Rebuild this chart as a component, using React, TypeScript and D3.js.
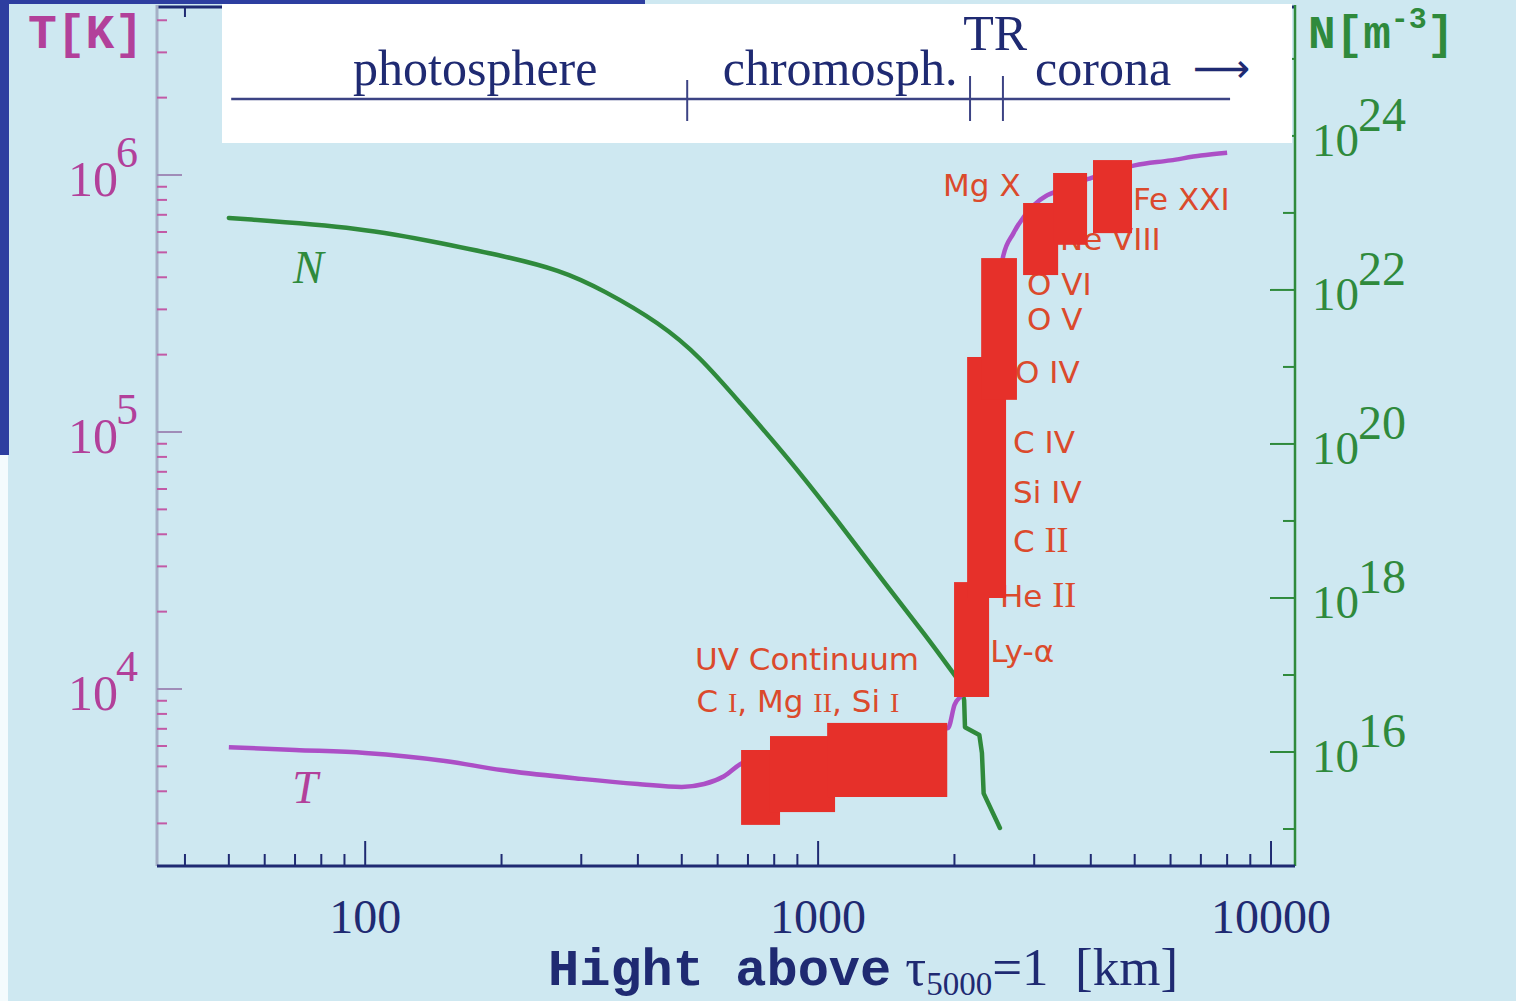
import * as d3 from "d3";

// temperature profile: height above tau5000=1 [km] and T [K]
const tHeight = [50, 70, 100, 150, 200, 300, 400, 500, 560, 620, 680, 1000, 1500, 1936, 2000, 2100, 2200, 2300, 2400, 2560, 2700, 3000, 3500, 4000, 5000, 6000, 7000, 8000];
const tTemp = [5940, 5790, 5640, 5250, 4840, 4470, 4270, 4160, 4270, 4580, 5150, 6000, 6700, 7050, 8660, 9910, 2.0e4, 8e4, 2e5, 4.8e5, 5.94e5, 7.65e5, 8.9e5, 9.73e5, 1.09e6, 1.14e6, 1.19e6, 1.22e6];

// particle density profile: height [km] and N [m^-3]
const nHeight = [50, 100, 150, 200, 269.5, 335, 448, 549, 673, 854.5, 1101, 1370, 1740, 1986, 2060, 2101, 2110, 2270, 2300, 2320, 2520];
const nDens = [8.6e22, 6.4e22, 3.95e22, 2.8e22, 1.82e22, 1.0e22, 3.7e21, 1.35e21, 3.4e20, 6.8e19, 1.03e19, 1.87e18, 3.1e17, 1.06e17, 7.9e16, 4.7e16, 2.1e16, 1.66e16, 9.7e15, 2.9e15, 1.03e15];
const nSmoothEnd = 14; // smooth decline up to 2060 km, jagged tail after

// formation regions of the spectral lines: [h0, h1, T0, T1]
const blocks = [
  [676, 824, 2960, 5790],
  [783, 1090, 3320, 6560],
  [1047, 1928, 3800, 7380],
  [1996, 2385, 9310, 26060],
  [2133, 2600, 22600, 195800],
  [2291, 2748, 133400, 475000],
  [2835, 3388, 408000, 778000],
  [3302, 3925, 535000, 1.018e6],
  [4045, 4932, 594000, 1.143e6],
];

const lineLabels = ["Mg X", "Fe XXI", "Ne VIII", "O VI", "O V", "O IV", "C IV", "Si IV", "C II", "He II", "Ly-α", "UV Continuum"];
const lineLabelH = [1888, 4955, 3420, 2891, 2891, 2722, 2695, 2695, 2695, 2522, 2399, 535];
const lineLabelT = [8.28e5, 7.31e5, 5.1e5, 3.42e5, 2.49e5, 1.55e5, 8.28e4, 5.3e4, 3.41e4, 2.08e4, 1.27e4, 1.186e4];
const serifNumeral = ["C II", "He II"];

// atmosphere layers in the header
const layerNames = ["photosphere", "chromosph.", "corona"];
const layerLabelH = [175, 1118, 3013];
const layerBounds = [514, 2165, 2559];
const headerRange = [50.6, 8120];

const hTicksLabeled = [100, 1000, 10000];
const tExponents = [4, 5, 6];
const nExponents = [16, 18, 20, 22, 24];

const X0 = 157, X1 = 1295, Y0 = 5, Y1 = 866;
const BG = "#cee8f1";
const NAVY = "#1f2a72";
const MAGENTA = "#b2409a";
const VIOLET = "#ac4fc6";
const GREEN = "#2f8a3c";
const RED = "#e6302a";
const LABEL = "#db4a2c";
const SERIF = "'Liberation Serif', 'DejaVu Serif', serif";
const MONO = "'Liberation Mono', 'DejaVu Sans Mono', monospace";
const SANS = "'DejaVu Sans', Verdana, sans-serif";

export default function App() {
  const x = d3.scaleLog().domain([34.7, 11296]).range([X0, X1]);
  const yT = d3.scaleLog().domain([2048, 4.586e6]).range([Y1, Y0]);
  const yN = d3.scaleLog().domain([Math.pow(10, 14.5195), Math.pow(10, 25.7)]).range([Y1, Y0]);

  const tPath = d3.line<number>()
    .x((_, i) => x(tHeight[i]))
    .y((d) => yT(d))
    .curve(d3.curveMonotoneX)(tTemp) as string;

  const nPts: [number, number][] = nHeight.map((h, i) => [x(h), yN(nDens[i])]);
  const nSmooth = d3.line().curve(d3.curveBasis)(nPts.slice(0, nSmoothEnd + 1)) as string;
  const nTail = d3.line()(nPts.slice(nSmoothEnd)) as string;

  const isDecade = (v: number) => Math.abs(Math.log10(v) - Math.round(Math.log10(v))) < 1e-9;
  const xTicks = x.ticks();
  const tTicks = yT.ticks();
  const nTicks = yN.ticks().filter(isDecade);

  return (
    <svg width={1516} height={1001} style={{ position: "absolute", left: 0, top: 0 }}>
      <rect width={1516} height={1001} fill={BG} />
      <rect x={0} y={0} width={645} height={4} fill="#2d3ea0" />
      <rect x={0} y={0} width={9} height={455} fill="#2d3ea0" />
      <rect x={0} y={455} width={8} height={546} fill="#f4fbfd" />

      {/* top axis (mostly hidden by header) */}
      <line x1={X0} x2={X1} y1={Y0 + 2} y2={Y0 + 2} stroke={NAVY} strokeWidth={3} />
      {xTicks.map((t, i) => (
        <line key={"tt" + i} x1={x(t)} x2={x(t)} y1={Y0 + 2} y2={Y0 + 2 + (isDecade(t) ? 22 : 10)} stroke={NAVY} strokeWidth={2} />
      ))}

      {/* left T axis */}
      <line x1={X0} x2={X0} y1={Y0} y2={Y1} stroke="#a4afc6" strokeWidth={3} />
      {tTicks.map((t, i) => (
        <line key={"lt" + i} x1={X0} x2={X0 + (isDecade(t) ? 25 : 10)} y1={yT(t)} y2={yT(t)} stroke={isDecade(t) ? "#a08cb8" : "#c25aa6"} strokeWidth={2} />
      ))}
      {tExponents.map((e) => (
        <g key={"tl" + e} fill={MAGENTA} fontFamily={SERIF}>
          <text x={118} y={yT(Math.pow(10, e)) + 21} fontSize={50} textAnchor="end">10</text>
          <text x={116} y={yT(Math.pow(10, e)) - 8} fontSize={44}>{e}</text>
        </g>
      ))}

      {/* right N axis */}
      <line x1={X1} x2={X1} y1={Y0} y2={Y1} stroke={GREEN} strokeWidth={2.5} />
      {nTicks.map((t, i) => {
        const major = Math.round(Math.log10(t)) % 2 === 0;
        return <line key={"rt" + i} x1={X1} x2={X1 - (major ? 25 : 12)} y1={yN(t)} y2={yN(t)} stroke={GREEN} strokeWidth={2} />;
      })}
      {nExponents.map((e) => (
        <g key={"nl" + e} fill={GREEN} fontFamily={SERIF}>
          <text x={1312} y={yN(Math.pow(10, e)) + 20} fontSize={47}>10</text>
          <text x={1358} y={yN(Math.pow(10, e)) - 5} fontSize={48}>{e}</text>
        </g>
      ))}

      {/* bottom x axis */}
      <line x1={X0} x2={X1} y1={Y1} y2={Y1} stroke={NAVY} strokeWidth={3} />
      {xTicks.map((t, i) => (
        <line key={"bt" + i} x1={x(t)} x2={x(t)} y1={Y1} y2={Y1 - (isDecade(t) ? 25 : 12)} stroke={NAVY} strokeWidth={2} />
      ))}
      {hTicksLabeled.map((t) => (
        <text key={"xl" + t} x={x(t)} y={933} fontSize={48} fontFamily={SERIF} fill={NAVY} textAnchor="middle">{t}</text>
      ))}
      <text x={548} y={985} fill={NAVY} style={{ whiteSpace: "pre" }}>
        <tspan fontFamily={MONO} fontWeight="bold" fontSize={52}>Hight above</tspan>
        <tspan fontFamily={SERIF} fontSize={52} dx={14}>τ</tspan>
        <tspan fontFamily={SERIF} fontSize={33} dy={10}>5000</tspan>
        <tspan fontFamily={SERIF} fontSize={53} dy={-10}>=1  [km]</tspan>
      </text>

      {/* axis titles */}
      <text x={28} y={48} fontFamily={MONO} fontWeight="bold" fontSize={48} fill={MAGENTA}>T[K]</text>
      <text x={1308} y={48} fontFamily={MONO} fontWeight="bold" fontSize={46} fill={GREEN}>
        N[m<tspan fontSize={30} dy={-20}>-3</tspan><tspan dy={20}>]</tspan>
      </text>

      {/* curves */}
      <path d={nSmooth} fill="none" stroke={GREEN} strokeWidth={4.5} strokeLinejoin="round" strokeLinecap="round" />
      <path d={nTail} fill="none" stroke={GREEN} strokeWidth={4.5} strokeLinejoin="round" strokeLinecap="round" />
      <path d={tPath} fill="none" stroke={VIOLET} strokeWidth={4.5} strokeLinejoin="round" />
      <text x={x(69.3)} y={yN(1.23e22)} fontFamily={SERIF} fontStyle="italic" fontSize={46} fill={GREEN}>N</text>
      <text x={x(69)} y={yT(3600)} fontFamily={SERIF} fontStyle="italic" fontSize={46} fill={MAGENTA}>T</text>

      {/* line labels */}
      <g fill={LABEL} fontFamily={SANS} fontSize={31}>
        {lineLabels.map((s, i) => {
          if (serifNumeral.includes(s)) {
            const [a, b] = s.split(" ");
            return (
              <text key={s} x={x(lineLabelH[i])} y={yT(lineLabelT[i])}>
                {a + " "}<tspan fontFamily={SERIF} fontSize={36}>{b}</tspan>
              </text>
            );
          }
          return <text key={s} x={x(lineLabelH[i])} y={yT(lineLabelT[i])}>{s}</text>;
        })}
        <text x={x(539)} y={yT(8140)}>
          C <tspan fontFamily={SERIF} fontSize={28}>I</tspan>, Mg <tspan fontFamily={SERIF} fontSize={28}>II</tspan>, Si <tspan fontFamily={SERIF} fontSize={28}>I</tspan>
        </text>
      </g>

      {/* formation blocks */}
      {blocks.map((b, i) => (
        <rect key={"b" + i} x={x(b[0])} y={yT(b[3])} width={x(b[1]) - x(b[0])} height={yT(b[2]) - yT(b[3])} fill={RED} />
      ))}

      {/* header */}
      <rect x={222} y={4} width={1070} height={139} fill="#ffffff" />
      <line x1={x(headerRange[0])} x2={x(headerRange[1])} y1={99} y2={99} stroke="#3c4384" strokeWidth={2.5} />
      {layerBounds.map((h, i) => (
        <line key={"lb" + i} x1={x(h)} x2={x(h)} y1={i === 0 ? 80 : 76} y2={121} stroke="#3c4384" strokeWidth={2} />
      ))}
      <g fill={NAVY} fontFamily={SERIF} fontSize={50}>
        {layerNames.map((s, i) => (
          <text key={s} x={x(layerLabelH[i])} y={85} textAnchor={i === 2 ? "start" : "middle"}>
            {s}
            {i === 2 ? <tspan dx={22} fontFamily="'DejaVu Sans', sans-serif" fontSize={40} dy={-3}>⟶</tspan> : null}
          </text>
        ))}
        <text x={x(2460)} y={50} textAnchor="middle">TR</text>
      </g>
    </svg>
  );
}
